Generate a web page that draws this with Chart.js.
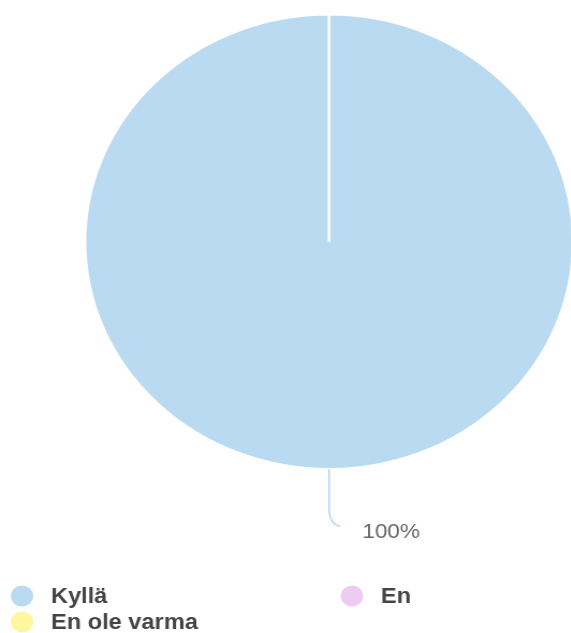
<!DOCTYPE html>
<html>
<head>
<meta charset="utf-8">
<script src="https://cdn.jsdelivr.net/npm/chart.js@4/dist/chart.umd.min.js"></script>
<style>
    html, body { margin: 0; padding: 0; background: #fff; overflow: hidden; }
    #wrap { position: absolute; left: 0; top: 0; width: 536px; height: 633px; transform: scaleX(1.0728); transform-origin: 0 0; }
</style>
</head>
<body>
<div id="wrap"><canvas id="pieChart"></canvas></div>
<script>
// vastaukset
var labels = ['Kyllä', 'En', 'En ole varma'];
var values = [100, 0, 0];
var colors = ['#b9daf0', '#eecbf3', '#fff6a0'];

// prosenttiteksti ja viiva
var percentLabels = {
    id: 'percentLabels',
    afterDatasetsDraw: function(chart) {
        var ctx = chart.ctx;
        var meta = chart.getDatasetMeta(0);
        var total = values.reduce(function(a, b) { return a + b; }, 0);
        meta.data.forEach(function(arc, i) {
            if (!values[i]) return;
            var p = arc.getProps(['x', 'y', 'startAngle', 'endAngle', 'outerRadius']);
            var mid = (p.startAngle + p.endAngle) / 2;
            var x0 = p.x + Math.cos(mid) * (p.outerRadius);
            var y0 = p.y + Math.sin(mid) * (p.outerRadius);
            var x1 = p.x + Math.cos(mid) * (p.outerRadius + 42);
            var y1 = p.y + Math.sin(mid) * (p.outerRadius + 42);
            var dir = Math.cos(mid) >= -0.01 ? 1 : -1;
            ctx.save();
            ctx.strokeStyle = '#b2d5ee';
            ctx.lineWidth = 1.5;
            ctx.beginPath();
            ctx.moveTo(x0, y0);
            ctx.lineTo(x1, y1);
            ctx.quadraticCurveTo(x1 + dir, y1 + 13, x1 + dir * 10, y1 + 15);
            ctx.stroke();
            ctx.fillStyle = '#666';
            ctx.font = '21px Arial, "Liberation Sans", sans-serif';
            ctx.textBaseline = 'middle';
            ctx.textAlign = dir > 0 ? 'left' : 'right';
            var pct = Math.round(values[i] / total * 100) + '%';
            ctx.fillText(pct, x1 + dir * 31, y1 + 21);
            ctx.restore();
        });
    }
};

// selite kahteen sarakkeeseen
var gridLegend = {
    id: 'gridLegend',
    afterDraw: function(chart) {
        var ctx = chart.ctx;
        var colX = [20.5, 328.1];
        var rowY = [596, 622];
        ctx.save();
        ctx.font = 'bold 22px Arial, "Liberation Sans", sans-serif';
        ctx.textBaseline = 'middle';
        ctx.textAlign = 'left';
        labels.forEach(function(label, i) {
            var x = colX[i % 2];
            var y = rowY[Math.floor(i / 2)];
            ctx.fillStyle = colors[i];
            ctx.beginPath();
            ctx.arc(x, y, 10.5, 0, Math.PI * 2);
            ctx.fill();
            ctx.fillStyle = '#444';
            ctx.fillText(label, x + 27, y + 1);
        });
        ctx.restore();
    }
};

var ctx = document.getElementById('pieChart').getContext('2d');
new Chart(ctx, {
    type: 'pie',
    data: {
        labels: labels,
        datasets: [{
            data: values,
            backgroundColor: colors,
            borderColor: '#ffffff',
            borderWidth: 2.5,
            hoverOffset: 0
        }]
    },
    options: {
        responsive: true,
        maintainAspectRatio: false,
        animation: false,
        layout: { padding: { top: 13, bottom: 162.5, left: 78, right: 0.5 } },
        plugins: {
            legend: { display: false },
            tooltip: { enabled: false }
        }
    },
    plugins: [percentLabels, gridLegend]
});
</script>
</body>
</html>
